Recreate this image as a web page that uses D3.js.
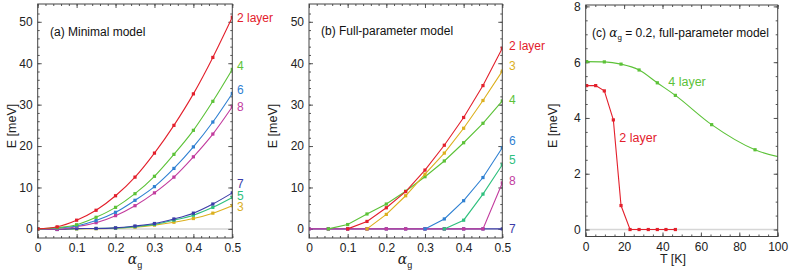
<!DOCTYPE html>
<meta charset="utf-8">
<style>
  body { margin: 0; background: #fff; }
  svg text { font-family: "Liberation Sans", Arial, Helvetica, sans-serif; }
  .tick line { stroke: #555; }
  .tick text { fill: #222; font-size: 12px; }
</style>
<body>
<script src="https://cdn.jsdelivr.net/npm/d3@7"></script>
<script>

// ---- data ----
var alphaG = [0, 0.05, 0.1, 0.15, 0.2, 0.25, 0.3, 0.35, 0.4, 0.45, 0.5];

// (a) minimal model
var minimal2 = [0, 0.5, 2.1, 4.5, 8.0, 12.5, 18.3, 25.0, 32.6, 41.4, 51.1];
var minimal4 = [0, 0.3, 1.0, 2.8, 5.2, 8.5, 12.7, 18.0, 23.8, 30.8, 38.5];
var minimal6 = [0, 0.2, 0.7, 2.0, 4.0, 6.9, 10.2, 14.6, 19.8, 25.8, 32.7];
var minimal8 = [0, -0.1, 0.55, 1.5, 3.2, 5.6, 8.7, 12.5, 17.4, 22.9, 29.5];
var minimal7 = [0, -0.15, 0.1, 0.1, 0.25, 0.7, 1.3, 2.4, 3.8, 6.0, 8.7];
var minimal5 = [0, -0.1, 0.05, 0.1, 0.2, 0.55, 1.1, 2.1, 3.3, 5.2, 7.6];
var minimal3 = [0, -0.05, 0, 0.05, 0.15, 0.4, 0.9, 1.6, 2.5, 3.8, 5.6];

// (b) full-parameter model (null = not plotted)
var full2 = [null, null, 0, 1.8, 5.1, 9.0, 14.2, 20.2, 26.9, 34.6, 43.6];
var full3 = [null, null, null, 0, 3.5, 8.0, 13.2, 18.3, 24.3, 31.0, 38.1];
var full4 = [null, 0, 1.05, 3.6, 6.0, 9.1, 12.6, 16.4, 20.8, 25.5, 30.9];
var full6 = [null, null, null, null, null, null, 0, 2.4, 6.8, 12.4, 19.6];
var full5 = [null, null, null, null, null, null, null, 0, 2.1, 8.4, 15.5];
var full8 = [0, 0, 0, 0, 0, 0, 0, 0, 0, 0, 11.1];
var full7 = [0, 0, 0, 0, 0, 0, 0, 0, 0, 0, 0];

// (c) alpha_g = 0.2, temperature dependence
var temp2 = [0.5, 5.2, 9.7, 14.4, 18.4, 23.1, 27.8, 32.6, 37.3, 41.8, 46.7];
var energy2 = [5.16, 5.16, 4.97, 3.93, 0.86, 0, 0, 0, 0, 0, 0];
var temp4 = [0.5, 9.7, 18.4, 27.8, 37.3, 46.7, 65.6, 88.2, 115];
var energy4 = [6.02, 6.01, 5.93, 5.72, 5.26, 4.81, 3.76, 2.86, 2.47];

var seriesNames = ['2 layer', '3', '4', '5', '6', '7', '8'];
var seriesColors = ['#e3202c', '#dcb01e', '#5cc238', '#2fc07e', '#2f80d2', '#3b3ba8', '#c23c9e'];

// where each right-hand label sits, in data units
var labelValuesA = [51.1, 5.3, 39.3, 8.1, 33.5, 11.0, 29.6];
var labelValuesB = [44.3, 39.3, 31.2, 16.7, 21.3, 0, 11.7];

var color = d3.scaleOrdinal().domain(seriesNames).range(seriesColors);

var svg = d3.select('body').append('svg')
    .attr('width', 789)
    .attr('height', 276);

function drawPanel(p) {
    var x = d3.scaleLinear().domain(p.xDomain).range([p.left, p.right]);
    var y = d3.scaleLinear().domain(p.yDomain).range([p.bottom, p.top]);
    var g = svg.append('g');

    var clipId = 'clip' + p.id;
    g.append('clipPath').attr('id', clipId)
        .append('rect')
        .attr('x', p.left).attr('y', p.top)
        .attr('width', p.right - p.left).attr('height', p.bottom - p.top);

    // zero line
    g.append('line')
        .attr('x1', p.left).attr('x2', p.right)
        .attr('y1', y(0)).attr('y2', y(0))
        .attr('stroke', '#d6d6d6')
        .attr('stroke-width', 1.5);

    // ticks, inward on all sides
    function addAxis(axis, tx, ty, size, values, format) {
        axis.tickValues(values).tickSizeInner(-size).tickSizeOuter(0).tickPadding(5);
        axis.tickFormat(format ? format : '');
        var a = g.append('g').attr('transform', 'translate(' + tx + ',' + ty + ')').call(axis);
        a.select('.domain').remove();
        a.selectAll('.tick line').attr('stroke', '#666');
        return a;
    }
    var bx = addAxis(d3.axisBottom(x), 0, p.bottom, 4, p.xMajor, p.xFmt);
    bx.selectAll('.tick text').attr('dy', '0.75em');
    addAxis(d3.axisBottom(x), 0, p.bottom, 2, p.xMinor, null);
    addAxis(d3.axisTop(x), 0, p.top, 4, p.xMajor, null);
    addAxis(d3.axisTop(x), 0, p.top, 2, p.xMinor, null);
    addAxis(d3.axisLeft(y), p.left, 0, 4, p.yMajor, d3.format('d'));
    addAxis(d3.axisLeft(y), p.left, 0, 2, p.yMinor, null);
    addAxis(d3.axisRight(y), p.right, 0, 4, p.yMajor, null);
    addAxis(d3.axisRight(y), p.right, 0, 2, p.yMinor, null);

    // lines and markers
    var plot = g.append('g').attr('clip-path', 'url(#' + clipId + ')');
    p.series.forEach(function(s) {
        var pts = s.xs.map(function(xv, i) { return {x: xv, y: s.ys[i]}; })
            .filter(function(d) { return d.y !== null; });
        var line = d3.line()
            .x(function(d) { return x(d.x); })
            .y(function(d) { return y(d.y); })
            .curve(s.smooth ? d3.curveMonotoneX : d3.curveLinear);
        plot.append('path')
            .datum(pts)
            .attr('fill', 'none')
            .attr('stroke', s.color)
            .attr('stroke-width', 1.1)
            .attr('d', line);
        plot.selectAll(null)
            .data(pts.filter(function(d) { return d.x <= p.xDomain[1]; }))
            .enter().append('rect')
            .attr('x', function(d) { return x(d.x) - 1.6; })
            .attr('y', function(d) { return y(d.y) - 1.6; })
            .attr('width', 3.2)
            .attr('height', 3.2)
            .attr('fill', s.color);
    });

    // frame
    g.append('rect')
        .attr('x', p.left).attr('y', p.top)
        .attr('width', p.right - p.left).attr('height', p.bottom - p.top)
        .attr('fill', 'none')
        .attr('stroke', '#444')
        .attr('stroke-width', 1);

    // y title
    g.append('text')
        .attr('transform', 'translate(' + p.yTitleX + ',' + ((p.top + p.bottom) / 2 + 5) + ') rotate(-90)')
        .attr('text-anchor', 'middle')
        .attr('dy', '0.35em')
        .style('font-size', '12.5px')
        .attr('fill', '#222')
        .text('E [meV]');

    return {x: x, y: y, g: g};
}

function alphaTitle(sel) {
    sel.append('tspan').style('font-family', '"DejaVu Serif", serif').style('font-style', 'italic').text('α');
    sel.append('tspan').attr('dy', 4).style('font-size', '9px').text('g');
}

var fmtAlpha = function(d) { return d === 0 ? '0' : d3.format('.1f')(d); };

// ---- panel (a) ----
var panelA = drawPanel({
    id: 'a', left: 37.7, right: 232.3, top: 4, bottom: 238,
    xDomain: [0, 0.5], yDomain: [-2.2, 54.3],
    xMajor: [0, 0.1, 0.2, 0.3, 0.4, 0.5], xMinor: d3.range(0, 0.51, 0.02),
    yMajor: [0, 10, 20, 30, 40, 50], yMinor: d3.range(0, 54, 2),
    xFmt: fmtAlpha, yTitleX: 12,
    series: [
        {xs: alphaG, ys: minimal3, color: color('3'), smooth: true},
        {xs: alphaG, ys: minimal5, color: color('5'), smooth: true},
        {xs: alphaG, ys: minimal7, color: color('7'), smooth: true},
        {xs: alphaG, ys: minimal8, color: color('8'), smooth: true},
        {xs: alphaG, ys: minimal6, color: color('6'), smooth: true},
        {xs: alphaG, ys: minimal4, color: color('4'), smooth: true},
        {xs: alphaG, ys: minimal2, color: color('2 layer'), smooth: true}
    ]
});

// ---- panel (b) ----
var panelB = drawPanel({
    id: 'b', left: 309, right: 502.3, top: 4, bottom: 238,
    xDomain: [0, 0.5], yDomain: [-2.2, 54.3],
    xMajor: [0, 0.1, 0.2, 0.3, 0.4, 0.5], xMinor: d3.range(0, 0.51, 0.02),
    yMajor: [0, 10, 20, 30, 40, 50], yMinor: d3.range(0, 54, 2),
    xFmt: fmtAlpha, yTitleX: 273,
    series: [
        {xs: alphaG, ys: full7, color: color('7'), smooth: false},
        {xs: alphaG, ys: full8, color: color('8'), smooth: false},
        {xs: alphaG, ys: full5, color: color('5'), smooth: false},
        {xs: alphaG, ys: full6, color: color('6'), smooth: false},
        {xs: alphaG, ys: full4, color: color('4'), smooth: false},
        {xs: alphaG, ys: full3, color: color('3'), smooth: false},
        {xs: alphaG, ys: full2, color: color('2 layer'), smooth: false}
    ]
});

// ---- panel (c) ----
var panelC = drawPanel({
    id: 'c', left: 585.7, right: 777.7, top: 5, bottom: 236.5,
    xDomain: [0, 100], yDomain: [-0.25, 8.05],
    xMajor: [0, 20, 40, 60, 80, 100], xMinor: d3.range(0, 101, 5),
    yMajor: [0, 2, 4, 6, 8], yMinor: d3.range(0, 8.01, 0.5),
    xFmt: d3.format('d'), yTitleX: 553,
    series: [
        {xs: temp4, ys: energy4, color: color('4'), smooth: true},
        {xs: temp2, ys: energy2, color: color('2 layer'), smooth: false}
    ]
});

// x titles
[135, 405].forEach(function(cx) {
    var t = svg.append('text')
        .attr('x', cx).attr('y', 264)
        .attr('text-anchor', 'middle')
        .attr('fill', '#222')
        .style('font-size', '14px');
    alphaTitle(t);
});
svg.append('text')
    .attr('x', 673).attr('y', 263)
    .attr('text-anchor', 'middle')
    .attr('fill', '#222')
    .style('font-size', '12.5px')
    .text('T [K]');

// panel titles
svg.append('text').attr('x', 50).attr('y', 36).attr('fill', '#111')
    .style('font-size', '12px').text('(a) Minimal model');
svg.append('text').attr('x', 321).attr('y', 35).attr('fill', '#111')
    .style('font-size', '12px').text('(b) Full-parameter model');
var tc = svg.append('text').attr('x', 592).attr('y', 37).attr('fill', '#111')
    .style('font-size', '12px');
tc.append('tspan').text('(c) ');
tc.append('tspan').style('font-family', '"DejaVu Serif", serif').style('font-style', 'italic').text('α');
tc.append('tspan').attr('dy', 3).style('font-size', '8px').text('g');
tc.append('tspan').attr('dy', -3).text(' = 0.2, full-parameter model');

// right-hand series labels
function seriesLabels(pn, x0, values) {
    svg.append('g').selectAll('text')
        .data(seriesNames)
        .enter().append('text')
        .attr('x', x0)
        .attr('y', function(d, i) { return pn.y(values[i]); })
        .attr('dy', '0.36em')
        .attr('fill', function(d) { return color(d); })
        .style('font-size', '12px')
        .text(function(d) { return d; });
}
seriesLabels(panelA, 237, labelValuesA);
seriesLabels(panelB, 509, labelValuesB);

// in-plot labels for (c)
svg.append('text').attr('x', panelC.x(43)).attr('y', panelC.y(5.3)).attr('dy', '0.36em')
    .attr('fill', color('4')).style('font-size', '12.5px').text('4 layer');
svg.append('text').attr('x', panelC.x(17.5)).attr('y', panelC.y(3.3)).attr('dy', '0.36em')
    .attr('fill', color('2 layer')).style('font-size', '12.5px').text('2 layer');

</script>
</body>
